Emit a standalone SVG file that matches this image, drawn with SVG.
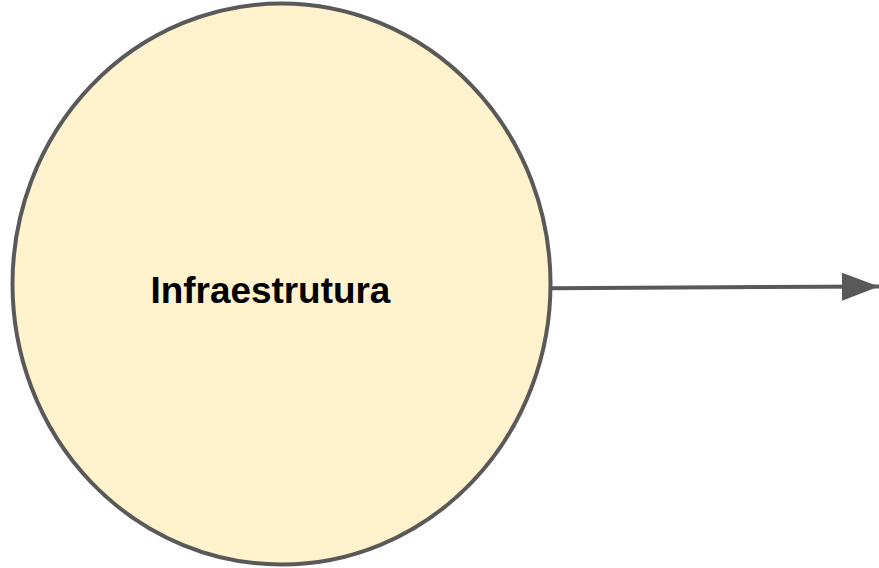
<svg xmlns="http://www.w3.org/2000/svg" width="879" height="568" viewBox="0 0 879 568">
<style>
.node{fill:#fff2cc;stroke:#595959;stroke-width:4}
.lbl{font-family:"Liberation Sans",Arial,sans-serif;font-weight:bold;font-size:36.9px;fill:#000}
.conn{stroke:#595959;stroke-width:4;fill:none}
</style>
<defs>
<marker id="arr" markerUnits="userSpaceOnUse" markerWidth="40" markerHeight="30" refX="37" refY="14" orient="auto">
<path d="M0,0 L37,14 L0,28 Z" fill="#595959"/>
</marker>
</defs>
<rect width="879" height="568" fill="#fff"/>
<g id="infraestrutura">
<ellipse class="node" cx="281.5" cy="284" rx="269" ry="280.5"/>
<text class="lbl" x="150.5" y="302.5">Infraestrutura</text>
</g>
<g id="connectors">
<line class="conn" x1="551" y1="288.2" x2="879" y2="286.5" marker-end="url(#arr)"/>
</g>
</svg>
